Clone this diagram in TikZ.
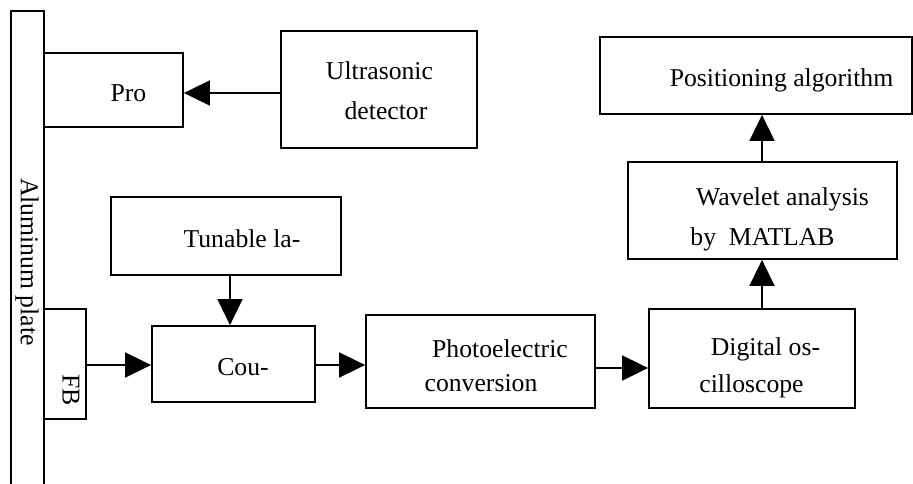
\documentclass[tikz,border=0pt]{standalone}
\usepackage{fontspec}
\setmainfont{Liberation Serif}
\usetikzlibrary{arrows.meta}
\tikzset{
  box/.style={draw, line width=1.8pt, inner sep=0pt, rectangle},
  txt/.style={inner sep=0pt, anchor=base, font=\fontsize{25.7}{30}\selectfont},
  vtxt/.style={inner sep=0pt, anchor=center, rotate=-90, font=\fontsize{25.7}{30}\selectfont},
  arr/.style={line width=1.8pt, -{Triangle[length=26pt,width=25pt]}}
}
\begin{document}
\begin{tikzpicture}[x=1pt,y=-1pt]
\useasboundingbox (0,0) rectangle (913,484);
% boxes
\node[box, minimum width=33, minimum height=484] (plate) at (27.5,253) {};
\node[box, minimum width=139, minimum height=74] (pro) at (113.5,90) {};
\node[box, minimum width=196, minimum height=117] (ultra) at (379,89.5) {};
\node[box, minimum width=230, minimum height=78] (tun) at (226,236) {};
\node[box, minimum width=42, minimum height=110] (fb) at (65,364) {};
\node[box, minimum width=163, minimum height=76] (cou) at (233.5,364) {};
\node[box, minimum width=229, minimum height=93] (photo) at (480.5,361.5) {};
\node[box, minimum width=206, minimum height=99] (dig) at (752,358.5) {};
\node[box, minimum width=269, minimum height=97] (wav) at (762.5,210.5) {};
\node[box, minimum width=312, minimum height=77] (pos) at (756,75.5) {};
% texts
\node[vtxt] (tplate) at (27,262) {Aluminum plate};
\node[vtxt] (tfb) at (71,390) {FB};
\node[txt] (tpro) at (128.5,102) {Pro};
\node[txt] (tultra1) at (379.5,80) {Ultrasonic};
\node[txt] (tultra2) at (386,120) {detector};
\node[txt] (tpos) at (781.5,87) {Positioning algorithm};
\node[txt] (twav1) at (782.5,205) {Wavelet analysis};
\node[txt] (twav2) at (762.5,245) {by\ \ MATLAB};
\node[txt] (ttun) at (242,247) {Tunable la-};
\node[txt] (tcou) at (243,375) {Cou-};
\node[txt] (tphoto1) at (500,357) {Photoelectric};
\node[txt] (tphoto2) at (481,391) {conversion};
\node[txt] (tdig1) at (765.5,355) {Digital os-};
\node[txt] (tdig2) at (751.5,392) {cilloscope};
% connectors
\draw[arr] (ultra.west |- 0,93) -- (pro.east |- 0,93);
\draw[arr] (tun.south -| 230,0) -- (cou.north -| 230,0);
\draw[arr] (fb.east |- 0,365) -- (cou.west |- 0,365);
\draw[arr] (cou.east |- 0,365) -- (photo.west |- 0,365);
\draw[arr] (photo.east |- 0,368) -- (dig.west |- 0,368);
\draw[arr] (dig.north -| 762,0) -- (wav.south -| 762,0);
\draw[arr] (wav.north -| 762,0) -- (pos.south -| 762,0);
\end{tikzpicture}
\end{document}
